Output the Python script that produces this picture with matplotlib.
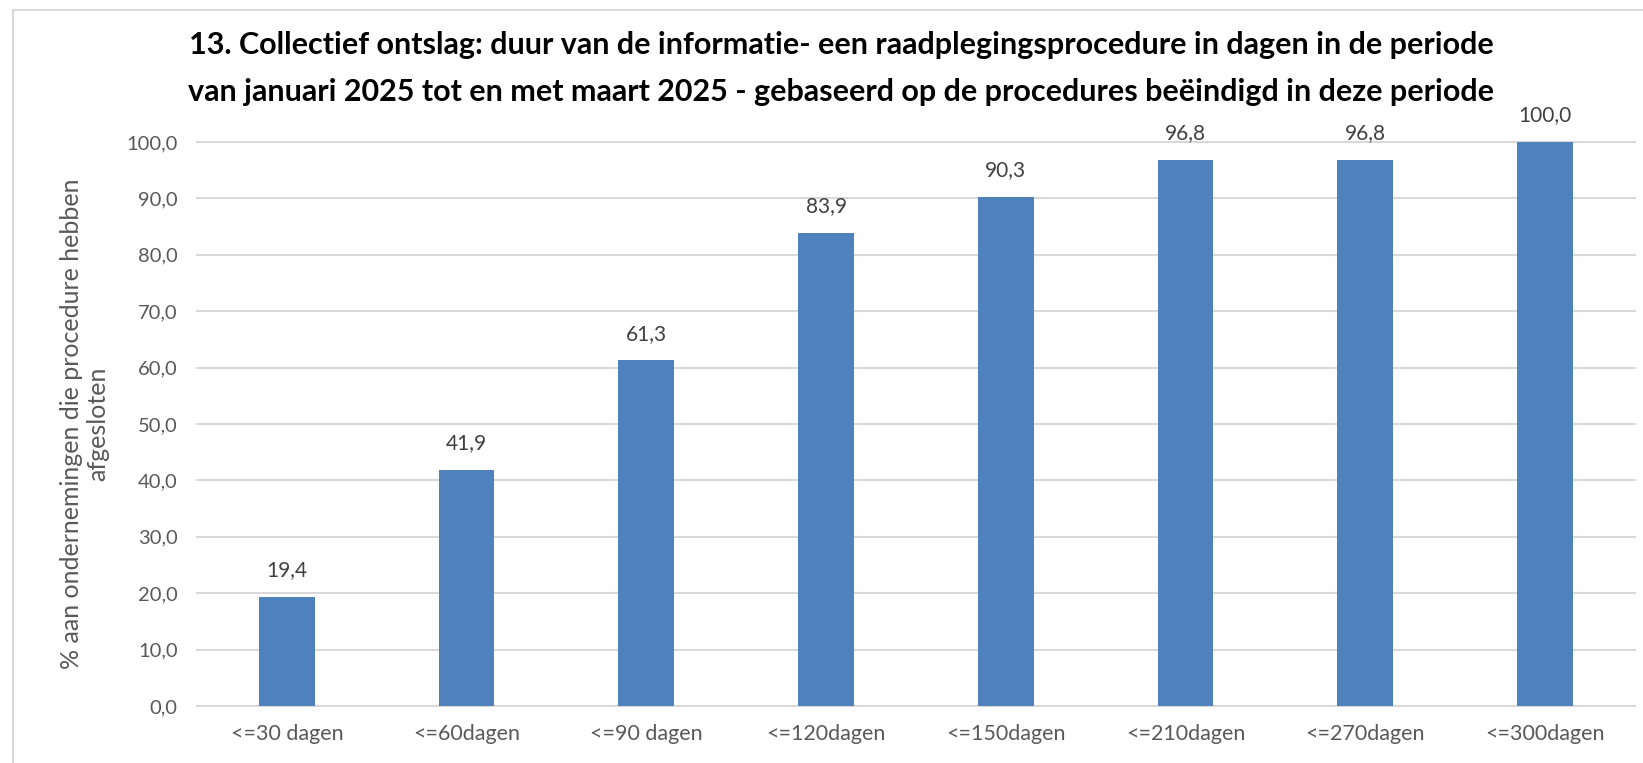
import matplotlib.pyplot as plt
from matplotlib.patches import Rectangle
from matplotlib.ticker import FuncFormatter

categories = ["<=30 dagen", "<=60dagen", "<=90 dagen", "<=120dagen",
              "<=150dagen", "<=210dagen", "<=270dagen", "<=300dagen"]
values = [19.4, 41.9, 61.3, 83.9, 90.3, 96.8, 96.8, 100.0]
yticks = [0, 10, 20, 30, 40, 50, 60, 70, 80, 90, 100]

title = ("13. Collectief ontslag: duur van de informatie- een raadplegingsprocedure in dagen in de periode\n"
         "van januari 2025 tot en met maart 2025 - gebaseerd op de procedures beëindigd in deze periode")
ylabel = "% aan ondernemingen die procedure hebben\nafgesloten"

plt.rcParams['font.family'] = ['Lato', 'DejaVu Sans']

fig = plt.figure(figsize=(16.43, 7.63), dpi=100)
ax = fig.add_axes([0.1199, 0.0747, 0.8752, 0.7392])

x = range(len(categories))
ax.bar(x, values, width=0.31, color='#4F81BD', zorder=3)
for i, v in zip(x, values):
    ax.annotate(f"{v:.1f}".replace('.', ','), (i, v), xytext=(0, 12),
                textcoords='offset points', ha='center', va='bottom',
                fontsize=15, color='#404040')

ax.set_xlim(-0.5, len(categories) - 0.5)
ax.set_ylim(0, 100)
ax.set_yticks(yticks)
ax.yaxis.set_major_formatter(FuncFormatter(lambda v, p: f"{v:.1f}".replace('.', ',')))
ax.set_xticks(list(x))
ax.set_xticklabels(categories)
for t in yticks:
    ax.axhline(t, color='#D9D9D9', linewidth=1.5, zorder=1, clip_on=False)
for s in ax.spines.values():
    s.set_visible(False)
ax.tick_params(axis='both', length=0, labelsize=14.5, labelcolor='#595959')
ax.tick_params(axis='x', labelsize=15.5, pad=13)
ax.tick_params(axis='y', pad=14)
ax.set_ylabel(ylabel, fontsize=18, color='#595959', labelpad=12, linespacing=1.2)

fig.text(0.512, 0.96, title, ha='center', va='top', fontsize=22,
         fontweight='bold', color='black', linespacing=1.85)

fig.patches.append(Rectangle((13 / 1643, -0.1), 1.2, 1 - 10 / 763 + 0.1,
                             transform=fig.transFigure, fill=False,
                             edgecolor='#D9D9D9', linewidth=1.5))

fig.savefig('out.png', dpi=100)
